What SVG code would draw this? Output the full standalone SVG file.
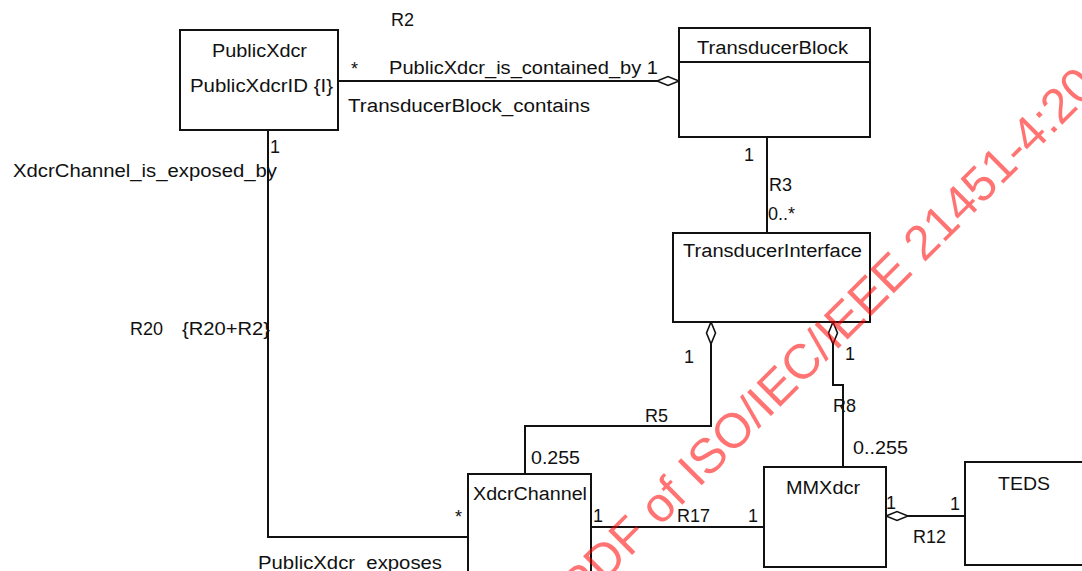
<svg xmlns="http://www.w3.org/2000/svg" width="1082" height="571" viewBox="0 0 1082 571">
<style>
.t{font-family:"Liberation Sans",Arial,sans-serif;font-size:18px;fill:#111}
.box{fill:#fff;stroke:#111;stroke-width:2}
.c{fill:none;stroke:#111;stroke-width:2}
.agg{marker-start:url(#agg)}
.wm{font-family:"Liberation Sans",Arial,sans-serif;font-size:49px;fill:#ff0000;fill-opacity:0.55}
</style>
<defs>
<marker id="agg" markerUnits="userSpaceOnUse" viewBox="-2 -7 26 14" markerWidth="26" markerHeight="14" refX="0" refY="0" orient="auto">
<path d="M0,0 L11,-4.5 L22,0 L11,4.5 Z" fill="#fff" stroke="#111" stroke-width="1.6"/>
</marker>
</defs>
<rect width="1082" height="571" fill="#fff"/>

<g id="connectors">
<path id="R2" class="c agg" d="M679,81 H338"/>
<path id="R3" class="c" d="M767,137 V233"/>
<path id="R5" class="c agg" d="M711,322 V426 H525 V474"/>
<path id="R8" class="c agg" d="M833,322 V385 H843 V467"/>
<path id="R12" class="c agg" d="M886,516 H965"/>
<path id="R17" class="c" d="M591,527 H764"/>
<path id="R20" class="c" d="M268,130 V537 H468"/>
<text class="t" x="391" y="26">R2</text>
<text class="t" x="351" y="75">*</text>
<text class="t" x="389" y="74" textLength="269" lengthAdjust="spacingAndGlyphs">PublicXdcr_is_contained_by 1</text>
<text class="t" x="348" y="112" textLength="242" lengthAdjust="spacingAndGlyphs">TransducerBlock_contains</text>
<text class="t" x="744" y="161">1</text>
<text class="t" x="769" y="191">R3</text>
<text class="t" x="768" y="220">0..*</text>
<text class="t" x="270" y="153">1</text>
<text class="t" x="13" y="177" textLength="264" lengthAdjust="spacingAndGlyphs">XdcrChannel_is_exposed_by</text>
<text class="t" x="130" y="335">R20</text>
<text class="t" x="182" y="335" textLength="88" lengthAdjust="spacingAndGlyphs">{R20+R2}</text>
<text class="t" x="684" y="363">1</text>
<text class="t" x="845" y="360">1</text>
<text class="t" x="833" y="412">R8</text>
<text class="t" x="853" y="454" textLength="55" lengthAdjust="spacingAndGlyphs">0..255</text>
<text class="t" x="645" y="422">R5</text>
<text class="t" x="531" y="464" textLength="49" lengthAdjust="spacingAndGlyphs">0.255</text>
<text class="t" x="455" y="523">*</text>
<text class="t" x="593" y="522">1</text>
<text class="t" x="677" y="522">R17</text>
<text class="t" x="748" y="522">1</text>
<text class="t" x="886" y="509">1</text>
<text class="t" x="950" y="510">1</text>
<text class="t" x="913" y="543">R12</text>
<text class="t" x="258" y="569" textLength="184" lengthAdjust="spacingAndGlyphs">PublicXdcr_exposes</text>
</g>

<g id="PublicXdcr">
<rect class="box" x="180" y="30" width="158" height="100"/>
<text class="t" x="212" y="57" textLength="95" lengthAdjust="spacingAndGlyphs">PublicXdcr</text>
<text class="t" x="190" y="92" textLength="143" lengthAdjust="spacingAndGlyphs">PublicXdcrID {I}</text>
</g>

<g id="TransducerBlock">
<rect class="box" x="679" y="28" width="191" height="109"/>
<line class="c" x1="679" y1="62" x2="870" y2="62"/>
<text class="t" x="697" y="54" textLength="151" lengthAdjust="spacingAndGlyphs">TransducerBlock</text>
</g>

<g id="TransducerInterface">
<rect class="box" x="673" y="233" width="197" height="89"/>
<text class="t" x="683" y="257" textLength="179" lengthAdjust="spacingAndGlyphs">TransducerInterface</text>
</g>

<g id="XdcrChannel">
<rect class="box" x="468" y="474" width="123" height="110"/>
<text class="t" x="473" y="500" textLength="114" lengthAdjust="spacingAndGlyphs">XdcrChannel</text>
</g>

<g id="MMXdcr">
<rect class="box" x="764" y="467" width="122" height="100"/>
<text class="t" x="786" y="494" textLength="74" lengthAdjust="spacingAndGlyphs">MMXdcr</text>
</g>

<g id="TEDS">
<rect class="box" x="965" y="462" width="130" height="103"/>
<text class="t" x="998" y="490" textLength="52" lengthAdjust="spacingAndGlyphs">TEDS</text>
</g>

<text class="wm" transform="translate(581,606) rotate(-45)">PDF of ISO/IEC/IEEE 21451-4:2010</text>
</svg>
